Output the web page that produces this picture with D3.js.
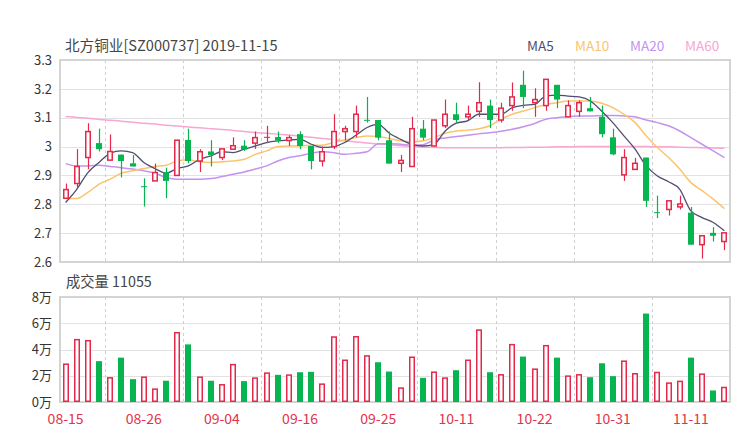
<!DOCTYPE html>
<html><head><meta charset="utf-8">
<script src="https://cdn.jsdelivr.net/npm/d3@7"></script>
<style>
body{margin:0;background:#fff;}
svg text{font-family:"Noto Sans CJK SC","Noto Sans",sans-serif;}
</style></head>
<body><svg id="c" width="740" height="440"></svg>
<script>
const dates = ["08-15","08-16","08-19","08-20","08-21","08-22","08-23","08-26","08-27","08-28","08-29","08-30",
"09-02","09-03","09-04","09-05","09-06","09-09","09-10","09-11","09-12","09-16","09-17","09-18","09-19","09-20","09-23","09-24","09-25","09-26","09-27","09-30",
"10-08","10-09","10-10","10-11","10-14","10-15","10-16","10-17","10-18","10-21","10-22","10-23","10-24","10-25","10-28","10-29","10-30","10-31",
"11-01","11-04","11-05","11-06","11-07","11-08","11-11","11-13","11-14","11-15"];
const open  = [2.821,2.872,2.962,3.012,2.953,2.972,2.942,2.861,2.881,2.911,2.900,3.023,2.950,2.983,2.962,2.991,3.003,3.012,3.032,3.033,
3.021,3.043,3.002,2.950,3.000,3.052,3.052,3.091,3.092,3.022,2.942,2.931,3.062,3.002,3.072,3.112,3.103,3.122,3.142,3.092,
3.142,3.214,3.152,3.142,3.214,3.103,3.122,3.133,3.103,3.032,2.902,2.921,2.962,2.771,2.782,2.791,2.771,2.660,2.701,2.671];
const close = [2.851,2.931,3.052,2.991,2.983,2.950,2.931,2.861,2.910,2.881,3.022,2.950,2.982,2.971,2.992,3.003,2.990,3.031,3.032,3.021,
3.031,3.002,2.950,2.982,3.052,3.062,3.112,3.091,3.031,2.941,2.952,3.062,3.031,3.092,3.112,3.092,3.112,3.152,3.092,3.133,
3.172,3.172,3.163,3.233,3.163,3.142,3.152,3.122,3.043,2.973,2.962,2.942,2.812,2.771,2.812,2.801,2.660,2.691,2.691,2.701];
const high  = [2.872,2.991,3.081,3.062,3.042,2.973,2.971,2.890,2.941,2.927,3.022,3.062,2.991,3.022,2.992,3.032,3.022,3.052,3.072,3.052,
3.039,3.053,3.002,3.000,3.112,3.072,3.142,3.172,3.092,3.052,2.971,3.103,3.092,3.092,3.163,3.152,3.142,3.223,3.163,3.152,
3.222,3.263,3.202,3.233,3.214,3.160,3.160,3.172,3.142,3.062,2.991,2.961,2.962,2.830,2.812,2.830,2.791,2.691,2.721,2.701];
const low   = [2.820,2.858,2.921,2.983,2.953,2.893,2.931,2.792,2.881,2.821,2.900,2.942,2.912,2.931,2.953,2.991,2.985,2.992,3.012,3.013,
3.002,2.991,2.921,2.931,2.992,3.022,3.032,3.083,3.022,2.941,2.912,2.931,3.022,3.000,3.064,3.083,3.092,3.103,3.064,3.083,
3.124,3.133,3.103,3.124,3.133,3.103,3.103,3.122,3.032,2.970,2.881,2.921,2.791,2.752,2.761,2.782,2.660,2.612,2.671,2.641];
// volume in 万
const volume = [2.88,4.75,4.67,3.11,1.84,3.38,1.74,1.89,0.98,1.62,5.28,4.39,1.89,1.62,1.31,2.85,1.59,1.82,2.20,2.07,
2.05,2.27,2.30,1.36,4.95,3.18,4.97,3.51,3.03,2.32,1.06,3.41,1.84,2.27,1.82,2.42,3.18,5.48,2.27,2.07,
4.37,3.46,2.50,4.29,3.38,1.97,2.07,1.89,2.95,1.97,3.11,2.15,6.74,2.25,1.44,1.57,3.38,2.12,0.88,1.1055];
const ma5  = [2.806,2.852,2.910,2.945,2.977,2.985,2.979,2.945,2.924,2.908,2.924,2.933,2.956,2.968,2.982,2.979,2.991,3.002,3.014,3.020,
3.023,3.025,3.008,2.997,3.000,3.014,3.039,3.066,3.077,3.046,3.025,3.008,3.002,3.008,3.054,3.081,3.089,3.112,3.112,3.112,
3.135,3.143,3.146,3.175,3.178,3.175,3.172,3.158,3.123,3.083,3.037,2.991,2.933,2.898,2.878,2.852,2.777,2.754,2.737,2.708];
const ma10 = [2.820,2.820,2.841,2.870,2.887,2.908,2.916,2.924,2.931,2.935,2.950,2.954,2.947,2.945,2.947,2.950,2.956,2.973,2.985,3.000,
3.002,3.002,3.005,3.005,3.014,3.023,3.031,3.037,3.035,3.028,3.020,3.016,3.020,3.031,3.046,3.054,3.057,3.062,3.072,3.095,
3.112,3.123,3.135,3.146,3.152,3.158,3.158,3.158,3.150,3.135,3.112,3.083,3.037,2.997,2.962,2.922,2.875,2.847,2.818,2.785];
const ma20 = [2.941,2.933,2.933,2.935,2.931,2.927,2.922,2.916,2.908,2.893,2.887,2.887,2.887,2.889,2.896,2.904,2.912,2.922,2.933,2.950,
2.962,2.968,2.977,2.982,2.979,2.973,2.977,2.982,3.010,3.010,3.008,3.005,3.006,3.023,3.030,3.035,3.039,3.044,3.048,3.053,
3.060,3.069,3.080,3.095,3.100,3.104,3.106,3.106,3.107,3.108,3.106,3.103,3.092,3.083,3.072,3.054,3.031,3.008,2.985,2.962];
const ma60 = [3.104,3.101,3.098,3.094,3.091,3.088,3.084,3.081,3.078,3.074,3.071,3.068,3.065,3.062,3.059,3.056,3.052,3.049,3.046,3.043,
3.040,3.036,3.032,3.028,3.024,3.020,3.016,3.012,3.009,3.006,3.003,3.000,2.998,2.997,2.996,2.996,2.996,2.996,2.996,2.996,
2.997,2.997,2.998,2.998,2.999,2.999,3.000,3.000,3.000,3.000,3.000,3.000,3.000,2.999,2.999,2.998,2.997,2.996,2.995,2.994];
const priceTicks = [2.6,2.7,2.8,2.9,3.0,3.1,3.2,3.3];
const volTicks = [0,2,4,6,8];
const dateTicks = ["08-15","08-26","09-04","09-16","09-25","10-11","10-22","10-31","11-11"];
const maNames = ["MA5","MA10","MA20","MA60"];
const title = "北方铜业[SZ000737] 2019-11-15";
const volTitle = "成交量 11055";

const RED = "#e5294a", GREEN = "#07b550";
const maColors = ["#4e4e70","#fbc46c","#c592ee","#f8a6d2"];
const L = 60, R = 730, PT = 60, PB = 262, VT = 297, VB = 402;

const svg = d3.select("#c");
const x = d3.scaleBand().domain(d3.range(dates.length)).range([L, R]).paddingInner(0).paddingOuter(0);
const bw = x.bandwidth();
const cx = i => x(i) + bw / 2;
const y = d3.scaleLinear().domain([2.6, 3.3]).range([PB, PT]);
const yv = d3.scaleLinear().domain([0, 8]).range([VB, VT]);

// titles
svg.append("text").attr("x", 65).attr("y", 51).attr("font-size", 14.6).attr("fill", "#444").text(title);
svg.append("text").attr("x", 66).attr("y", 287).attr("font-size", 14.3).attr("fill", "#444").text(volTitle);
const legX = [527, 575, 630, 685];
maNames.forEach((n, k) => svg.append("text").attr("x", legX[k]).attr("y", 51).attr("font-size", 13.5).attr("fill", maColors[k]).text(n));

// horizontal grids
const gy = svg.append("g");
priceTicks.forEach(t => gy.append("line").attr("x1", L).attr("x2", R).attr("y1", Math.round(y(t)) + 0.5).attr("y2", Math.round(y(t)) + 0.5).attr("stroke", "#e2e2e2"));
volTicks.forEach(t => gy.append("line").attr("x1", L).attr("x2", R).attr("y1", Math.round(yv(t)) + 0.5).attr("y2", Math.round(yv(t)) + 0.5).attr("stroke", "#e2e2e2"));

// vertical dashed grids between label positions
const tickIdx = dateTicks.map(d => dates.indexOf(d));
for (let k = 0; k < tickIdx.length - 1; k++) {
  const gx = Math.round((cx(tickIdx[k]) + cx(tickIdx[k + 1])) / 2) + 0.5;
  [[PT, PB], [VT, VB]].forEach(([a, b]) => gy.append("line").attr("x1", gx).attr("x2", gx).attr("y1", a).attr("y2", b)
    .attr("stroke", "#cfcfcf").attr("stroke-dasharray", "3,3"));
}

// frames
[[PT, PB], [VT, VB]].forEach(([a, b]) => svg.append("rect").attr("x", L).attr("y", a).attr("width", R - L).attr("height", b - a)
  .attr("fill", "none").attr("stroke", "#d4d4d4").attr("stroke-width", 2));

// axes
const ay = d3.axisLeft(y).tickValues(priceTicks).tickSize(0).tickPadding(8).tickFormat(d3.format(""));
svg.append("g").attr("transform", `translate(${L},0)`).call(ay).call(g => g.select(".domain").remove())
  .selectAll("text").attr("font-size", 13).attr("fill", "#333").style("font-family", '"Noto Sans CJK SC","Noto Sans",sans-serif');
const av = d3.axisLeft(yv).tickValues(volTicks).tickSize(0).tickPadding(8).tickFormat(d => d + "万");
svg.append("g").attr("transform", `translate(${L},0)`).call(av).call(g => g.select(".domain").remove())
  .selectAll("text").attr("font-size", 13).attr("fill", "#333").style("font-family", '"Noto Sans CJK SC","Noto Sans",sans-serif');
const ax = d3.axisBottom(x).tickValues(tickIdx).tickSize(0).tickPadding(12).tickFormat(i => dates[i]);
svg.append("g").attr("transform", `translate(0,${VB})`).call(ax).call(g => g.select(".domain").remove())
  .selectAll("text").attr("font-size", 14).attr("fill", "#e4324e").style("font-family", '"Noto Sans CJK SC","Noto Sans",sans-serif');

// MA lines
const maData = [ma5, ma10, ma20, ma60];
const line = d3.line().x((d, i) => cx(i)).y(d => y(d)).curve(d3.curveMonotoneX);
maData.slice().reverse().forEach((arr, k) => {
  const idx = maData.length - 1 - k;
  svg.append("path").attr("d", line(arr)).attr("fill", "none").attr("stroke", maColors[idx]).attr("stroke-width", idx === 0 ? 1.3 : 1.5);
});

// candles
const up = i => close[i] > open[i] || (close[i] === open[i] && (i === 0 || close[i] >= close[i - 1]));
const cw = Math.round(bw * 0.56);
const cg = svg.append("g");
dates.forEach((d, i) => {
  const c = up(i) ? RED : GREEN;
  const xm = Math.round(cx(i)) + 0.5;
  cg.append("line").attr("x1", xm).attr("x2", xm).attr("y1", y(high[i])).attr("y2", y(low[i])).attr("stroke", c).attr("stroke-width", 1.2);
  const top = y(Math.max(open[i], close[i])), bot = y(Math.min(open[i], close[i]));
  const h = Math.max(1, bot - top);
  const bx = Math.round(cx(i) - cw / 2);
  if (close[i] > open[i]) {
    cg.append("rect").attr("x", bx + 0.75).attr("y", top).attr("width", cw - 1.5).attr("height", h)
      .attr("fill", "#fff").attr("stroke", c).attr("stroke-width", 1.5);
  } else {
    cg.append("rect").attr("x", bx).attr("y", top - (h === 1 ? 0.5 : 0)).attr("width", cw).attr("height", h)
      .attr("fill", c);
  }
});

// volume
const vg = svg.append("g");
volume.forEach((v, i) => {
  const bx = Math.round(cx(i) - cw / 2);
  const top = yv(v);
  if (close[i] >= open[i]) {
    vg.append("rect").attr("x", bx + 0.75).attr("y", top).attr("width", cw - 1.5).attr("height", VB - top - 0.75)
      .attr("fill", "#fff").attr("stroke", RED).attr("stroke-width", 1.5);
  } else {
    vg.append("rect").attr("x", bx).attr("y", top).attr("width", cw).attr("height", VB - top).attr("fill", GREEN);
  }
});
</script></body></html>
